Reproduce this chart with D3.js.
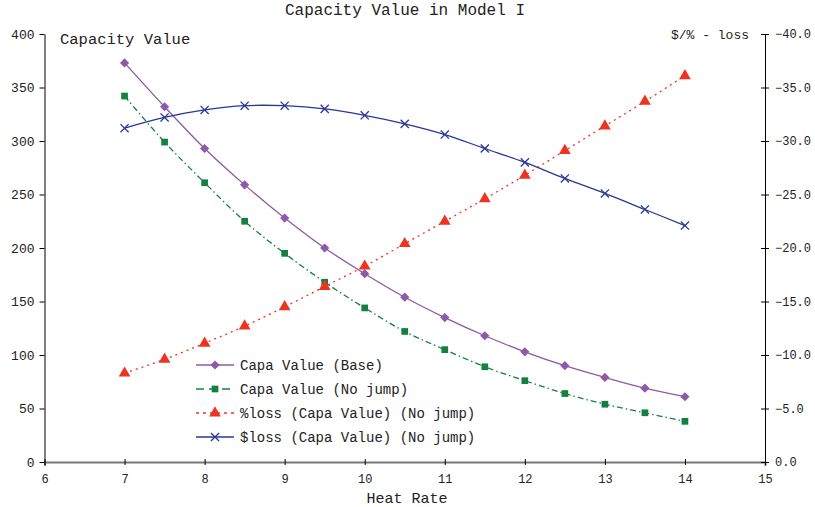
<!DOCTYPE html>
<html>
<head>
<meta charset="utf-8">
<script src="https://cdn.jsdelivr.net/npm/d3@7"></script>
<style>
  body { margin: 0; background: #fff; }
  text { font-family: "Liberation Mono", "DejaVu Sans Mono", monospace; fill: #222; }
</style>
</head>
<body>
<div id="chart"></div>
<script>
// data
var heatRate = [7, 7.5, 8, 8.5, 9, 9.5, 10, 10.5, 11, 11.5, 12, 12.5, 13, 13.5, 14];
var capaBase = [373, 332, 293, 259, 228, 200, 176, 154, 135, 118, 103, 90, 79, 69, 61];
var capaNoJump = [342, 299, 261, 225, 195, 168, 144, 122, 105, 89, 76, 64, 54, 46, 38];
var pctLoss = [-8.3, -9.6, -11.1, -12.7, -14.5, -16.4, -18.3, -20.4, -22.5, -24.6, -26.8, -29.1, -31.4, -33.7, -36.1];
var dolLoss = [-31.2, -32.2, -32.9, -33.3, -33.3, -33.0, -32.4, -31.6, -30.6, -29.3, -28.0, -26.5, -25.1, -23.6, -22.1];
var xTicks = [6, 7, 8, 9, 10, 11, 12, 13, 14, 15];
var leftTicks = [0, 50, 100, 150, 200, 250, 300, 350, 400];
var rightTicks = [0, -5, -10, -15, -20, -25, -30, -35, -40];

var svgWidth = 815;
var svgHeight = 507;

var margin = {top: 34, right: 50, bottom: 45, left: 44.5};
var chartWidth = 765 - margin.left;
var chartHeight = 462 - margin.top;

var svg = d3.select("#chart")
    .append("svg")
    .attr("width", svgWidth)
    .attr("height", svgHeight);

var chartGroup = svg.append("g")
    .attr("transform", `translate(${margin.left},${margin.top})`);

var xScale = d3.scaleLinear().domain([6, 15]).range([0, chartWidth]);
var yLeft = d3.scaleLinear().domain([0, 400]).range([chartHeight, 0]);
var yRight = d3.scaleLinear().domain([0, -40]).range([chartHeight, 0]);

// axes
var xAxis = chartGroup.append("g")
    .attr("transform", `translate(0, ${chartHeight})`)
    .call(d3.axisBottom(xScale).tickValues(xTicks).tickSize(4).tickPadding(8));
xAxis.select(".domain").attr("stroke", "#777").attr("stroke-width", 2);
xAxis.selectAll(".tick line").attr("y1", -3).attr("y2", 3);
xAxis.selectAll("text").style("font-size", "12px");

var leftAxis = chartGroup.append("g")
    .call(d3.axisLeft(yLeft).tickValues(leftTicks).tickSize(5).tickSizeOuter(0).tickPadding(5));
leftAxis.selectAll("text").style("font-size", "13px");

var rightAxis = chartGroup.append("g")
    .attr("transform", `translate(${chartWidth},0)`)
    .call(d3.axisRight(yRight).tickValues(rightTicks).tickSize(4).tickSizeOuter(0).tickPadding(6)
      .tickFormat(d => d === 0 ? "0.0" : d3.format(".1f")(d).replace("-", "\u2212")));
rightAxis.selectAll(".tick line").attr("x1", -4).attr("x2", 4);
rightAxis.selectAll("text").style("font-size", "12px");

// series
var series = [
  {name: "Capa Value (Base)", vals: capaBase, y: yLeft, color: "#8C5AA6", dash: null, marker: "diamond"},
  {name: "Capa Value (No jump)", vals: capaNoJump, y: yLeft, color: "#148040", dash: "6,3,1.5,3", marker: "square"},
  {name: "%loss (Capa Value) (No jump)", vals: pctLoss, y: yRight, color: "#EE3322", dash: "2,4", marker: "triangle"},
  {name: "$loss (Capa Value) (No jump)", vals: dolLoss, y: yRight, color: "#263896", dash: null, marker: "cross"}
];

var symbolFor = {
  diamond: () => "M0,-4.6L4.6,0L0,4.6L-4.6,0Z",
  square: d3.symbol().type(d3.symbolSquare).size(45),
  triangle: d3.symbol().type(d3.symbolTriangle).size(60),
  cross: d3.symbol().type(d3.symbolX).size(45)
};

function drawMarker(g, s, x, y) {
  var p = g.append("path")
    .attr("d", symbolFor[s.marker]())
    .attr("transform", `translate(${x},${y})`);
  if (s.marker === "cross") {
    p.attr("fill", "none").attr("stroke", s.color).attr("stroke-width", 1.3);
  } else {
    p.attr("fill", s.color);
  }
}

series.forEach(function(s) {
  var line = d3.line()
    .x((d, i) => xScale(heatRate[i]))
    .y(d => s.y(d))
    .curve(d3.curveCatmullRom.alpha(0.5));

  chartGroup.append("path")
    .datum(s.vals)
    .attr("d", line)
    .attr("fill", "none")
    .attr("stroke", s.color)
    .attr("stroke-width", 1.3)
    .attr("stroke-dasharray", s.dash);

  var mg = chartGroup.append("g");
  s.vals.forEach(function(v, i) {
    drawMarker(mg, s, xScale(heatRate[i]), s.y(v));
  });
});

// legend
var legend = svg.append("g").attr("transform", "translate(196, 365)");
series.forEach(function(s, i) {
  var row = legend.append("g").attr("transform", `translate(0, ${i * 24})`);
  row.append("line")
    .attr("x1", 0).attr("x2", 38).attr("y1", 0).attr("y2", 0)
    .attr("stroke", s.color).attr("stroke-width", 1.3)
    .attr("stroke-dasharray", s.dash === null ? null : (i === 1 ? "8,5" : "3,4"));
  drawMarker(row, s, 19, 0);
  row.append("text")
    .attr("x", 44).attr("y", 0).attr("dy", "0.35em")
    .style("font-size", "14px")
    .text(s.name);
});

// titles
svg.append("text")
  .attr("x", 405).attr("y", 15)
  .attr("text-anchor", "middle")
  .style("font-size", "16px")
  .text("Capacity Value in Model I");

svg.append("text")
  .attr("x", 60).attr("y", 44)
  .style("font-size", "15.5px")
  .text("Capacity Value");

svg.append("text")
  .attr("x", 749).attr("y", 39)
  .attr("text-anchor", "end")
  .style("font-size", "13px")
  .text("$/% - loss");

svg.append("text")
  .attr("x", 407).attr("y", 503)
  .attr("text-anchor", "middle")
  .style("font-size", "15px")
  .text("Heat Rate");
</script>
</body>
</html>
